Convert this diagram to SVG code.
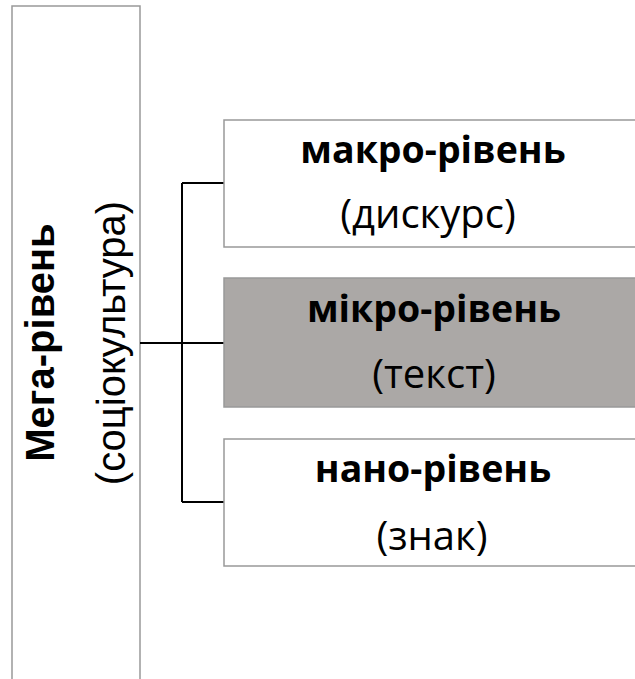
<svg xmlns="http://www.w3.org/2000/svg" width="635" height="679" viewBox="0 0 635 679">
<style>
.box{stroke:#999;stroke-width:1.5}
.lvl{font-family:"Open Sans","Liberation Sans",sans-serif;font-size:40px;fill:#000;text-anchor:middle}
.b{font-weight:bold;font-size:37.5px}
.mega{font-family:"Liberation Sans",Arial,sans-serif;font-size:40px;fill:#000;text-anchor:middle}
.conn{stroke:#000;stroke-width:2;fill:none}
</style>
<rect width="635" height="679" fill="#fff"/>
<g id="mega">
<rect class="box" x="12" y="6" width="128" height="690" fill="#fff"/>
<text class="mega b" font-size="40" style="font-size:40px" transform="translate(54,342.5) rotate(-90)">Мега-рівень</text>
<text class="mega" transform="translate(125,343) rotate(-90)">(соціокультура)</text>
</g>
<g id="connectors">
<path class="conn" d="M140,343 H182 M182,183 V502 M182,183 H224 M182,343 H224 M182,502 H224"/>
</g>
<g id="macro">
<rect class="box" x="224" y="120" width="420" height="127" fill="#fff"/>
<text class="lvl b" x="433" y="163">макро-рівень</text>
<text class="lvl" x="428" y="228">(дискурс)</text>
</g>
<g id="micro">
<rect class="box" x="224" y="278" width="420" height="129" fill="#aba8a6"/>
<text class="lvl b" x="434" y="322">мікро-рівень</text>
<text class="lvl" x="434" y="388">(текст)</text>
</g>
<g id="nano">
<rect class="box" x="224" y="439" width="420" height="127" fill="#fff"/>
<text class="lvl b" x="433" y="482">нано-рівень</text>
<text class="lvl" x="432" y="550">(знак)</text>
</g>
</svg>
